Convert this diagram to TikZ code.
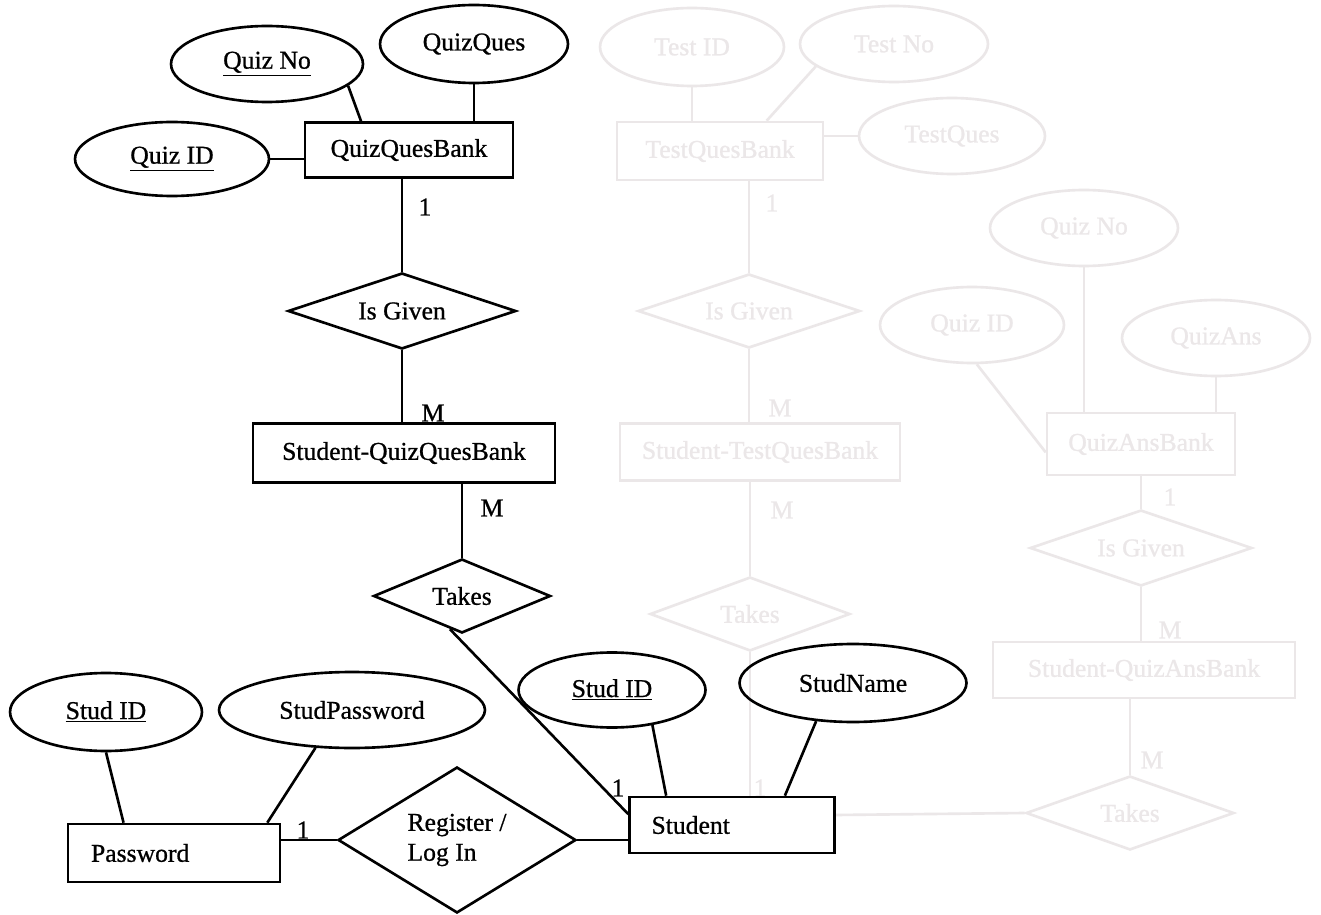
\documentclass[tikz,border=0pt]{standalone}
\usepackage{fontspec}
\setmainfont{Liberation Serif}[FakeBold=0.8]
\usetikzlibrary{shapes.geometric}
\definecolor{bleed}{RGB}{235,231,232}

\tikzset{
  er/.style={draw, line width=1.5pt, inner sep=0pt, font=\fontsize{14.6}{17}\selectfont},
  attr/.style={er, ellipse},
  ent/.style={er, rectangle},
  rel/.style={er, diamond, aspect=2},
  card/.style={inner sep=0pt, font=\fontsize{14.6}{17}\selectfont},
  link/.style={line width=1.5pt},
}

\begin{document}
\begin{tikzpicture}[x=0.02cm, y=-0.02cm]
\useasboundingbox[fill=white] (0,0) rectangle (1321,915);

% show-through from the back of the page
\begin{scope}[color=bleed]
\node[attr, minimum width=3.68cm, minimum height=1.56cm] (bTid) at (692,47) {Test ID};
\node[attr, minimum width=3.76cm, minimum height=1.52cm] (bTno) at (894,44) {Test No};
\node[ent, minimum width=4.12cm, minimum height=1.16cm] (bTqb) at (720,151) {TestQuesBank};
\node[attr, minimum width=3.72cm, minimum height=1.52cm] (bTq) at (952,136) {TestQues};
\node[rel, minimum width=4.44cm, minimum height=1.48cm] (bIg1) at (749,311) {Is Given};
\node[ent, minimum width=5.6cm, minimum height=1.14cm] (bStq) at (760,452) {Student-TestQuesBank};
\node[rel, minimum width=4.0cm, minimum height=1.48cm] (bTk1) at (750,614) {Takes};
\node[attr, minimum width=3.76cm, minimum height=1.52cm] (bQno) at (1084,228) {Quiz No};
\node[attr, minimum width=3.68cm, minimum height=1.52cm] (bQid) at (972,325) {Quiz ID};
\node[attr, minimum width=3.76cm, minimum height=1.52cm] (bQa) at (1216,338) {QuizAns};
\node[ent, minimum width=3.76cm, minimum height=1.24cm] (bQab) at (1141,444) {QuizAnsBank};
\node[rel, minimum width=4.44cm, minimum height=1.52cm] (bIg2) at (1141,548) {Is Given};
\node[ent, minimum width=6.04cm, minimum height=1.12cm] (bSqa) at (1144,670) {Student-QuizAnsBank};
\node[rel, minimum width=4.16cm, minimum height=1.48cm] (bTk2) at (1130,813) {Takes};
\coordinate (bEnd1) at (750,797);
\coordinate (bEnd2) at (835,815);

\draw[link] (bTid.south) -- (bTid.south |- bTqb.north);
\draw[link] (bTno.196) -- (bTqb.33);
\draw[link] (bTq.west) -- (bTq.west -| bTqb.east);
\draw[link] (bIg1.north |- bTqb.south) -- (bIg1.north);
\draw[link] (bIg1.south) -- (bIg1.south |- bStq.north);
\draw[link] (bTk1.north |- bStq.south) -- (bTk1.north);
\draw[link] (bTk1.south) -- (bEnd1);
\draw[link] (bEnd2) -- (bTk2.west);
\draw[link] (bQno.south) -- (bQno.south |- bQab.north);
\draw[link] (bQid.-83) -- (bQab.185);
\draw[link] (bQa.south) -- (bQa.south |- bQab.north);
\draw[link] (bIg2.north |- bQab.south) -- (bIg2.north);
\draw[link] (bIg2.south) -- (bIg2.south |- bSqa.north);
\draw[link] (bTk2.north |- bSqa.south) -- (bTk2.north);

\node[card] (bc1) at (772,203) {1};
\node[card] (bc2) at (780,408) {M};
\node[card] (bc3) at (782,510) {M};
\node[card] (bc4) at (760,788) {1};
\node[card] (bc5) at (1170,497) {1};
\node[card] (bc6) at (1170,630) {M};
\node[card] (bc7) at (1152,760) {M};
\end{scope}

% quiz question bank
\node[attr, minimum width=3.84cm, minimum height=1.52cm] (qno) at (267,64) {\underline{Quiz No}};
\node[attr, minimum width=3.76cm, minimum height=1.56cm] (qq) at (474,44) {QuizQues};
\node[attr, minimum width=3.88cm, minimum height=1.48cm] (qid) at (172,159) {\underline{Quiz ID}};
\node[ent, minimum width=4.16cm, minimum height=1.1cm] (qqb) at (409,150) {QuizQuesBank};
\node[rel, minimum width=4.56cm, minimum height=1.52cm] (ig) at (402,311) {Is Given};
\node[ent, minimum width=6.04cm, minimum height=1.18cm] (sqqb) at (404,453) {Student-QuizQuesBank};
\node[rel, minimum width=3.54cm, minimum height=1.48cm] (tk) at (462,596) {Takes};

% password and student
\node[attr, minimum width=3.84cm, minimum height=1.56cm] (psid) at (106,712) {\underline{Stud ID}};
\node[attr, minimum width=5.32cm, minimum height=1.52cm] (spw) at (352,710) {StudPassword};
\node[ent, minimum height=1.16cm, text width=3.32cm, inner xsep=0.46cm, align=left] (pw) at (174,853) {Password};
\node[rel, minimum width=4.76cm, minimum height=2.92cm, align=left] (reg) at (457,840) {Register /\\Log In};
\node[ent, minimum height=1.12cm, text width=3.22cm, inner xsep=0.44cm, align=left] (st) at (732,825) {Student};
\node[attr, minimum width=3.74cm, minimum height=1.5cm] (ssid) at (612,690) {\underline{Stud ID}};
\node[attr, minimum width=4.54cm, minimum height=1.56cm] (sn) at (853,683) {StudName};

\draw[link] (qno.-15) -- (qqb.149);
\draw[link] (qq.south) -- (qq.south |- qqb.north);
\draw[link] (qid.east) -- (qid.east -| qqb.west);
\draw[link] (ig.north |- qqb.south) -- (ig.north);
\draw[link] (ig.south) -- (ig.south |- sqqb.north);
\draw[link] (tk.north |- sqqb.south) -- (tk.north);
\draw[link] (tk.-110) -- (st.174);
\draw[link] (psid.south) -- (pw.149);
\draw[link] (spw.-134) -- (pw.18);
\draw[link] (reg.west) -- (reg.west -| pw.east);
\draw[link] (reg.east) -- (reg.east -| st.west);
\draw[link] (ssid.-41) -- (st.156);
\draw[link] (sn.-134) -- (st.29);

\node[card] (c1) at (425,207) {1};
\node[card] (c2) at (433,413) {M};
\node[card] (c3) at (492,508) {M};
\node[card] (c4) at (303,830) {1};
\node[card] (c5) at (618,788) {1};
\end{tikzpicture}
\end{document}
